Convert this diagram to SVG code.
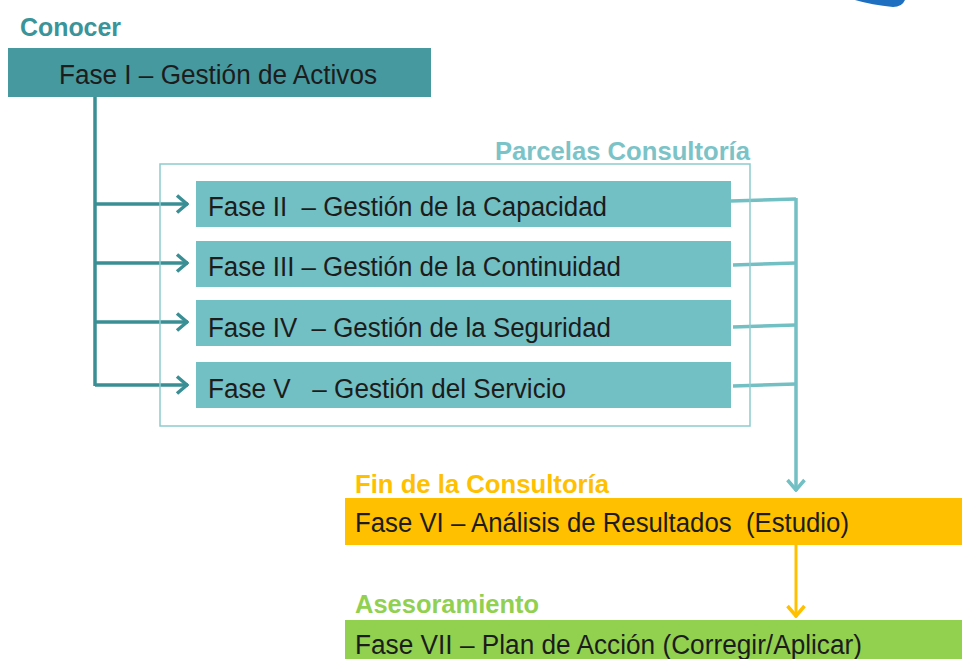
<svg xmlns="http://www.w3.org/2000/svg" width="962" height="659" viewBox="0 0 962 659">
<defs>
<style>
text{font-family:"Liberation Sans",Arial,sans-serif;white-space:pre}
.t{font-size:27px;fill:#1c1c1c}
.h{font-size:26px;font-weight:bold}
</style>
<marker id="aT" viewBox="0 0 14 20" refX="13" refY="10" markerWidth="14" markerHeight="20" markerUnits="userSpaceOnUse" orient="auto"><path d="M2,1.5 L12,10 L2,18.5" fill="none" stroke="#3a8f95" stroke-width="3.5"/></marker>
<marker id="aL" viewBox="0 0 20 14" refX="10" refY="13" markerWidth="20" markerHeight="14" markerUnits="userSpaceOnUse" orient="0"><path d="M1.5,2 L10,12 L18.5,2" fill="none" stroke="#72bfc4" stroke-width="3.5"/></marker>
<marker id="aO" viewBox="0 0 20 14" refX="10" refY="13" markerWidth="20" markerHeight="14" markerUnits="userSpaceOnUse" orient="0"><path d="M1.5,2 L10,12 L18.5,2" fill="none" stroke="#ffc000" stroke-width="3.5"/></marker>
</defs>
<rect width="962" height="659" fill="#ffffff"/>
<path d="M855,0 L905,0 Q902,7 893,7 Q872,5 855,0 Z" fill="#1f6fc0"/>

<g id="connectors" fill="none">
<g stroke="#3a8f95" stroke-width="3.5">
<path d="M95,97 V386"/>
<path d="M95,204 H188" marker-end="url(#aT)"/>
<path d="M95,263 H188" marker-end="url(#aT)"/>
<path d="M95,322 H188" marker-end="url(#aT)"/>
<path d="M95,385 H188" marker-end="url(#aT)"/>
</g>
<g stroke="#72bfc4" stroke-width="3.5">
<path d="M731,201 L796,199"/>
<path d="M733,265 L796,263"/>
<path d="M733,327 L796,325"/>
<path d="M733,386 L796,384"/>
<path d="M796,198 V491" marker-end="url(#aL)"/>
</g>
<path d="M796,545 V617" stroke="#ffc000" stroke-width="3" marker-end="url(#aO)"/>
</g>

<g id="conocer">
<text class="h" x="20" y="36" fill="#3a9499" textLength="101" lengthAdjust="spacingAndGlyphs">Conocer</text>
</g>
<g id="fase1">
<rect x="8" y="48" width="423" height="49" fill="#46999e"/>
<text class="t" x="59" y="84" textLength="318" lengthAdjust="spacingAndGlyphs">Fase I – Gestión de Activos</text>
</g>

<g id="parcelas">
<rect x="160" y="164" width="590" height="262" fill="none" stroke="#8ccbce" stroke-width="1.5"/>
<text class="h" x="495" y="160" fill="#7cc3c8" textLength="255" lengthAdjust="spacingAndGlyphs">Parcelas Consultoría</text>
</g>
<g id="fase2">
<rect x="196" y="181" width="535" height="46" fill="#72bfc4"/>
<text class="t" x="208" y="216" textLength="399" lengthAdjust="spacingAndGlyphs">Fase II  – Gestión de la Capacidad</text>
</g>
<g id="fase3">
<rect x="196" y="241" width="535" height="46" fill="#72bfc4"/>
<text class="t" x="208" y="276" textLength="413" lengthAdjust="spacingAndGlyphs">Fase III – Gestión de la Continuidad</text>
</g>
<g id="fase4">
<rect x="196" y="300" width="535" height="46" fill="#72bfc4"/>
<text class="t" x="208" y="337" textLength="403" lengthAdjust="spacingAndGlyphs">Fase IV  – Gestión de la Seguridad</text>
</g>
<g id="fase5">
<rect x="196" y="362" width="535" height="46" fill="#72bfc4"/>
<text class="t" x="208" y="398" textLength="358" lengthAdjust="spacingAndGlyphs">Fase V   – Gestión del Servicio</text>
</g>

<g id="fase6">
<text class="h" x="355" y="493" fill="#ffc000" textLength="254" lengthAdjust="spacingAndGlyphs">Fin de la Consultoría</text>
<rect x="345" y="498" width="617" height="47" fill="#ffc000"/>
<text class="t" x="355" y="532" textLength="494" lengthAdjust="spacingAndGlyphs">Fase VI – Análisis de Resultados  (Estudio)</text>
</g>
<g id="fase7">
<text class="h" x="355" y="613" fill="#92d050" textLength="184" lengthAdjust="spacingAndGlyphs">Asesoramiento</text>
<rect x="345" y="620" width="617" height="39" fill="#92d050"/>
<text class="t" x="355" y="654" textLength="507" lengthAdjust="spacingAndGlyphs">Fase VII – Plan de Acción (Corregir/Aplicar)</text>
</g>
</svg>
